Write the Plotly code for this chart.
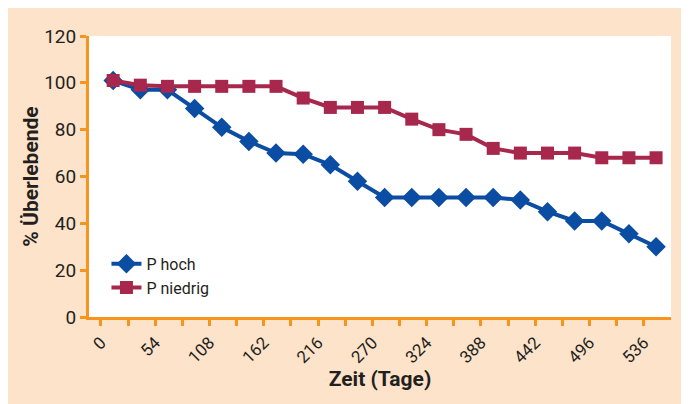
import plotly.graph_objects as go

# Tick labels (every second tick carries a label)
day_labels = ["0", "54", "108", "162", "216", "270", "324", "388", "442", "496", "536"]
n_ticks = 21

# Survival (%) per time step
p_hoch = [101, 97, 97, 89, 81, 75, 70, 69.5, 65, 58, 51, 51, 51, 51, 51, 50, 45, 41, 41, 35.5, 30]
p_niedrig = [101, 99, 98.5, 98.5, 98.5, 98.5, 98.5, 93.5, 89.5, 89.5, 89.5, 84.5, 80, 78, 72, 70, 70, 70, 68, 68, 68]

BLUE = "#0B4DA2"
RED = "#A8274C"
ORANGE = "#F7941D"
PEACH = "#FDE3C9"
TXT = "#231F20"
FONT = "Roboto, sans-serif"

x_pts = [i + 0.45 for i in range(len(p_hoch))]

tickvals = list(range(n_ticks))
ticktext = [day_labels[k // 2] if k % 2 == 0 else "" for k in tickvals]

fig = go.Figure()
fig.add_trace(go.Scatter(
    x=x_pts, y=p_hoch, name="P hoch", mode="lines+markers",
    line=dict(color=BLUE, width=4),
    marker=dict(symbol="diamond", size=15, color=BLUE),
))
fig.add_trace(go.Scatter(
    x=x_pts, y=p_niedrig, name="P niedrig", mode="lines+markers",
    line=dict(color=RED, width=4),
    marker=dict(symbol="square", size=13, color=RED),
))

W, H = 681, 396
fig.update_layout(
    width=W, height=H,
    margin=dict(l=81, r=18, t=28, b=87),
    paper_bgcolor=PEACH,
    plot_bgcolor="white",
    font=dict(family=FONT, color=TXT, size=16),
    showlegend=True,
    legend=dict(x=0.03, y=0.25, xanchor="left", yanchor="top",
                bgcolor="rgba(0,0,0,0)", font=dict(size=16, family=FONT, color=TXT),
                tracegroupgap=0),
    xaxis=dict(
        range=[-0.44, 21.0],
        tickmode="array", tickvals=tickvals, ticktext=ticktext,
        tickangle=-45, ticks="outside", ticklen=6, tickwidth=2.5, tickcolor=ORANGE,
        showline=True, linecolor=ORANGE, linewidth=3,
        showgrid=False, zeroline=False,
        tickfont=dict(size=17, family=FONT, color=TXT),
        title=dict(text="<b>Zeit (Tage)</b>", font=dict(size=21, family=FONT, color=TXT), standoff=6),
    ),
    yaxis=dict(
        range=[0, 120], tickvals=[0, 20, 40, 60, 80, 100, 120],
        ticks="outside", ticklen=6, tickwidth=2.5, tickcolor=ORANGE,
        showline=True, linecolor=ORANGE, linewidth=3,
        showgrid=False, zeroline=False,
        tickfont=dict(size=19, family=FONT, color=TXT),
        title=dict(text="<b>% Überlebende</b>", font=dict(size=21, family=FONT, color=TXT), standoff=0),
    ),
)

fig.write_html("out.html")
